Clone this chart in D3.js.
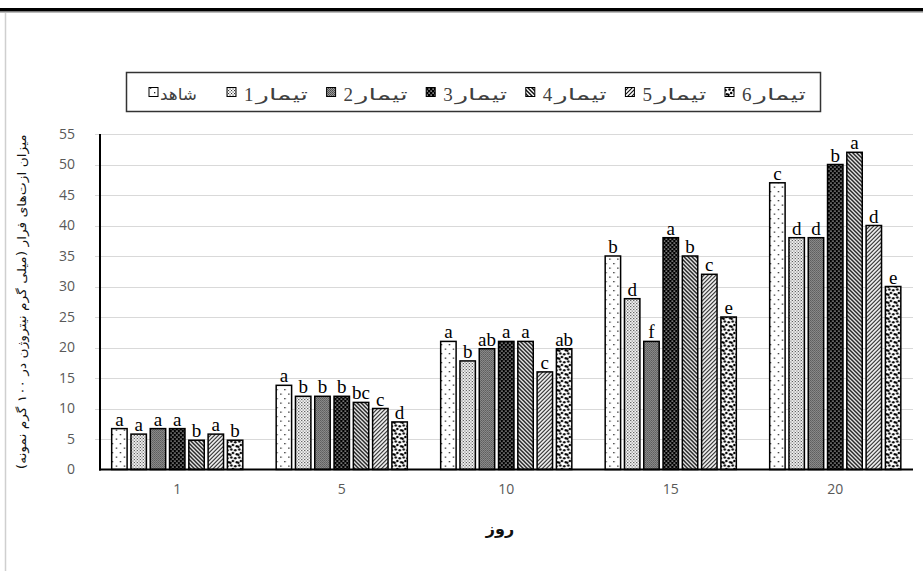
<!DOCTYPE html>
<html>
<head>
<meta charset="utf-8">
<script src="https://cdn.jsdelivr.net/npm/d3@7"></script>
<style>
  body { margin: 0; background: #fff; }
  svg { display: block; }
</style>
</head>
<body>
<svg id="chart" width="923" height="571"></svg>
<script>
// Sampling days (x categories)
const days = ["1", "5", "10", "15", "20"];

// Treatment names, in legend order
const seriesNames = ["شاهد", "تیمار 1", "تیمار 2", "تیمار 3", "تیمار 4", "تیمار 5", "تیمار 6"];

// Volatile nitrogen (mg N / 100 g sample) per day
const control = [6.7, 13.8, 21, 35, 47];
const treat1  = [5.8, 12, 17.8, 28, 38];
const treat2  = [6.7, 12, 19.8, 21, 38];
const treat3  = [6.7, 12, 21, 38, 50];
const treat4  = [4.8, 11, 21, 35, 52];
const treat5  = [5.8, 10, 16, 32, 40];
const treat6  = [4.8, 7.8, 19.8, 25, 30];

// Significance letters above each bar
const lettersControl = ["a", "a", "a", "b", "c"];
const letters1 = ["a", "b", "b", "d", "d"];
const letters2 = ["a", "b", "ab", "f", "d"];
const letters3 = ["a", "b", "a", "a", "b"];
const letters4 = ["b", "bc", "a", "b", "a"];
const letters5 = ["a", "c", "c", "c", "d"];
const letters6 = ["b", "d", "ab", "e", "e"];

const yTicks = [0, 5, 10, 15, 20, 25, 30, 35, 40, 45, 50, 55];

const yTitle = "میزان ازت‌های فرار (میلی گرم نیتروژن در ۱۰۰ گرم نمونه)";
const xTitle = "روز";

const seriesValues = [control, treat1, treat2, treat3, treat4, treat5, treat6];
const seriesLetters = [lettersControl, letters1, letters2, letters3, letters4, letters5, letters6];

const svg = d3.select("#chart");
const W = 923, H = 571;

// ---------- fill patterns ----------
const defs = svg.append("defs");
function pat(id, w, h, bg) {
  const p = defs.append("pattern").attr("id", id)
    .attr("patternUnits", "userSpaceOnUse").attr("width", w).attr("height", h);
  p.append("rect").attr("width", w).attr("height", h).attr("fill", bg);
  return p;
}
// control: white with sparse dots
{
  const p = pat("p0", 8, 9, "#fff");
  [[2, 2], [6, 6.5]].forEach(([x, y]) => p.append("rect").attr("x", x).attr("y", y).attr("width", 1.3).attr("height", 1.3).attr("fill", "#222"));
}
// treatment 1: fine dots
{
  const p = pat("p1", 3, 3, "#fff");
  p.append("rect").attr("x", 0).attr("y", 0).attr("width", 1.1).attr("height", 1.1).attr("fill", "#333");
  p.append("rect").attr("x", 1.5).attr("y", 1.5).attr("width", 1.1).attr("height", 1.1).attr("fill", "#333");
}
// treatment 2: dense grey texture
{
  const p = pat("p2", 2, 2, "#9a9a9a");
  p.append("rect").attr("x", 0).attr("y", 0).attr("width", 1).attr("height", 1).attr("fill", "#4a4a4a");
  p.append("rect").attr("x", 1).attr("y", 1).attr("width", 1).attr("height", 1).attr("fill", "#5a5a5a");
}
// treatment 3: black with white dots
{
  const p = pat("p3", 4, 4, "#000");
  p.append("rect").attr("x", 0.5).attr("y", 0.5).attr("width", 1.2).attr("height", 1.2).attr("fill", "#fff");
  p.append("rect").attr("x", 2.5).attr("y", 2.5).attr("width", 1.2).attr("height", 1.2).attr("fill", "#fff");
}
// treatment 4: wide downward diagonal
{
  const p = pat("p4", 4, 4, "#fff");
  p.append("path").attr("d", "M-1,3 L1,5 M0,0 L4,4 M3,-1 L5,1")
    .attr("stroke", "#111").attr("stroke-width", 1.5);
}
// treatment 5: upward diagonal
{
  const p = pat("p5", 4, 4, "#fff");
  p.append("path").attr("d", "M-1,1 L1,-1 M0,4 L4,0 M3,5 L5,3")
    .attr("stroke", "#111").attr("stroke-width", 1.1);
}
// treatment 6: confetti
{
  const p = pat("p6", 8, 8, "#fff");
  [[1.5, 1.5], [5.5, 2.2], [3.2, 5], [7, 6.3], [0.5, 6.8]].forEach(([x, y]) =>
    p.append("circle").attr("cx", x).attr("cy", y).attr("r", 1.25).attr("fill", "#000"));
}

// ---------- frame decorations ----------
svg.append("rect").attr("x", 0).attr("y", 8).attr("width", W).attr("height", 3.5).attr("fill", "#000");
svg.append("line").attr("x1", 0).attr("x2", W).attr("y1", 12.5).attr("y2", 12.5).attr("stroke", "#bbb").attr("stroke-width", 1);
svg.append("line").attr("x1", 5.5).attr("x2", 5.5).attr("y1", 13).attr("y2", H).attr("stroke", "#cfcfcf").attr("stroke-width", 1.5);

// ---------- scales ----------
const x0 = d3.scaleBand().domain(days).range([95, 917.5]).paddingInner(0).paddingOuter(0);
const x1 = d3.scaleBand().domain(d3.range(seriesNames.length)).range([0, 135]).paddingInner(0.2).paddingOuter(0.1);
const y = d3.scaleLinear().domain([0, 55]).range([469.5, 134]);

const axisX = 100, plotRight = 913;

// gridlines + outer tick stubs
svg.append("g").selectAll("line").data(yTicks.filter(t => t > 0)).join("line")
  .attr("x1", axisX - 5).attr("x2", plotRight)
  .attr("y1", d => Math.round(y(d)) + 0.5).attr("y2", d => Math.round(y(d)) + 0.5)
  .attr("stroke", "#d9d9d9").attr("stroke-width", 1);

// y tick labels
const yAxis = d3.axisLeft(y).tickValues(yTicks).tickSize(0).tickPadding(0);
const gy = svg.append("g").attr("transform", `translate(${axisX - 25},0)`).call(yAxis);
gy.select(".domain").remove();
gy.selectAll("text").attr("font-family", "'Open Sans', 'Liberation Sans', sans-serif")
  .attr("font-size", 14).attr("fill", "#595959").attr("dx", 0);

// x tick labels
const xAxis = d3.axisBottom(x0).tickSize(0).tickPadding(0);
const gx = svg.append("g").attr("transform", `translate(0,484)`).call(xAxis);
gx.select(".domain").remove();
gx.selectAll("text").attr("font-family", "'Open Sans', 'Liberation Sans', sans-serif")
  .attr("font-size", 14).attr("fill", "#595959");

// ---------- bars ----------
const groups = svg.append("g").selectAll("g").data(days).join("g")
  .attr("transform", d => `translate(${x0(d) + x0.bandwidth() / 2 - 67.5},0)`);

groups.each(function (day, di) {
  const g = d3.select(this);
  seriesValues.forEach((vals, si) => {
    const v = vals[di];
    g.append("rect")
      .attr("x", x1(si)).attr("y", y(v))
      .attr("width", x1.bandwidth()).attr("height", y(0) - y(v))
      .attr("fill", `url(#p${si})`)
      .attr("stroke", "#000").attr("stroke-width", 1.5);
    g.append("text")
      .attr("x", x1(si) + x1.bandwidth() / 2).attr("y", y(v) - 3)
      .attr("text-anchor", "middle")
      .attr("font-family", "'Liberation Serif', 'Times New Roman', serif")
      .attr("font-size", 19).attr("fill", "#000")
      .text(seriesLetters[si][di]);
  });
});

// axis lines
svg.append("line").attr("x1", axisX).attr("x2", axisX).attr("y1", y(55)).attr("y2", y(0) + 1)
  .attr("stroke", "#000").attr("stroke-width", 2);
svg.append("line").attr("x1", axisX - 1).attr("x2", plotRight).attr("y1", y(0)).attr("y2", y(0))
  .attr("stroke", "#000").attr("stroke-width", 2);

// ---------- axis titles ----------
svg.append("text")
  .attr("transform", `translate(26,${(y(55) + y(0)) / 2}) rotate(-90)`)
  .attr("text-anchor", "middle")
  .attr("font-family", "'DejaVu Sans', sans-serif")
  .attr("font-size", 12).attr("fill", "#111")
  .attr("textLength", 335).attr("lengthAdjust", "spacingAndGlyphs")
  .text(yTitle);

svg.append("text")
  .attr("x", 500).attr("y", 534)
  .attr("text-anchor", "middle")
  .attr("font-family", "'DejaVu Sans', sans-serif")
  .attr("font-weight", "bold")
  .attr("font-size", 16).attr("fill", "#111")
  .text(xTitle);

// ---------- legend ----------
const leg = svg.append("g");
leg.append("rect").attr("x", 126.5).attr("y", 72.5).attr("width", 694).attr("height", 39)
  .attr("fill", "#fff").attr("stroke", "#333").attr("stroke-width", 1.5);

const legendX = seriesNames.map((_, i) => i === 0 ? 149 : 227 + (i - 1) * 99.6);
seriesNames.forEach((name, i) => {
  const lx = legendX[i];
  leg.append("rect").attr("x", lx).attr("y", 87.5).attr("width", 9).attr("height", 9)
    .attr("fill", `url(#p${i})`).attr("stroke", "#000").attr("stroke-width", 1);
  const parts = name.split(" ");
  if (parts.length === 1) {
    leg.append("text").attr("x", lx + 11).attr("y", 100)
      .attr("font-family", "'DejaVu Sans', sans-serif").attr("font-size", 16)
      .attr("fill", "#404040").attr("textLength", 37).attr("lengthAdjust", "spacingAndGlyphs")
      .text(parts[0]);
  } else {
    // number on the left, word to its right (right-to-left reading)
    leg.append("text").attr("x", lx + 17).attr("y", 101)
      .attr("font-family", "'Liberation Serif', serif").attr("font-size", 19)
      .attr("fill", "#404040").text(parts[1]);
    leg.append("text").attr("x", lx + 29).attr("y", 100)
      .attr("font-family", "'DejaVu Sans', sans-serif").attr("font-size", 16)
      .attr("fill", "#404040").attr("textLength", 52).attr("lengthAdjust", "spacingAndGlyphs")
      .text(parts[0]);
  }
});
</script>
</body>
</html>
